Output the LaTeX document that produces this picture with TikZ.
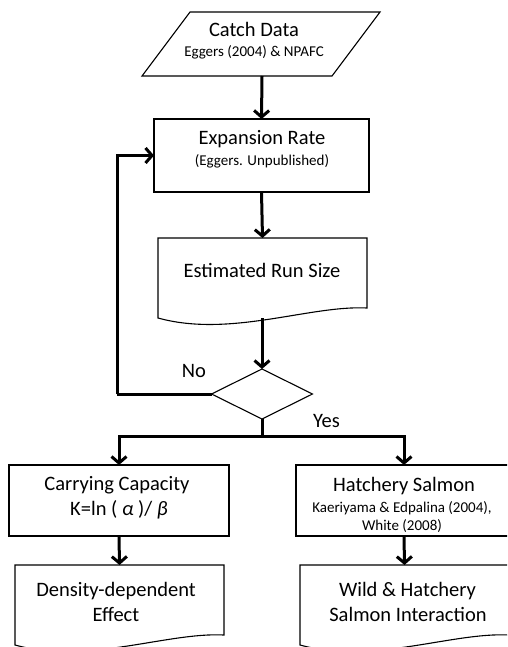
\documentclass[tikz,border=0pt]{standalone}
\usepackage{fontspec}
\setmainfont{Carlito}
\usetikzlibrary{arrows.meta,shapes.geometric}
\begin{document}
\begin{tikzpicture}[x=1pt,y=-1pt,
  conn/.style={line width=3pt},
  arr/.style={conn,-{Straight Barb[length=6.5pt,width=15pt]}},
  box/.style={draw,line width=1.1pt},
  frame/.style={rectangle,inner sep=0pt,outer sep=0pt},
  big/.style={font=\fontsize{20.5}{25}\selectfont,inner sep=0pt,anchor=base},
  small/.style={font=\fontsize{15}{18}\selectfont,inner sep=0pt,anchor=base}]
\useasboundingbox (0,0) rectangle (507,647);
\clip (0,0) rectangle (507,647);

% Catch data (parallelogram)
\node[frame,minimum width=190pt,minimum height=64pt] (catch) at (262,44) {};
\draw[box] (190,12) -- (380,12) -- (332,76) -- (142,76) -- cycle;
\node[big] (catchT) at (254,36.5) {Catch Data};
\node[small] (catchS) at (254,57) {Eggers (2004) \& NPAFC};

% Expansion rate
\node[box,frame,minimum width=215pt,minimum height=73pt] (exp) at (261.5,155.5) {};
\node[big] (expT) at (262,145) {Expansion Rate};
\node[small] (expS) at (262,165) {(Eggers. Unpublished)};

% Estimated run size (document)
\node[frame,minimum width=209pt,minimum height=80pt] (run) at (262.5,278) {};
\draw[box,shift={(158,238)}] (0,0) -- (209,0) -- (209,70) .. controls (152,67) and (72,100) .. (0,80) -- cycle;
\node[big] (runT) at (262,277) {Estimated Run Size};
\coordinate (runb) at (262,318);

% Decision
\node[draw,line width=1.1pt,diamond,aspect=2,minimum width=101pt,minimum height=50pt,inner sep=0pt,outer sep=0pt,fill=white] (dec) at (262,394) {};
\node[big] (no) at (194,377) {No};
\node[big] (yes) at (326.5,427) {Yes};
\coordinate (loopc) at (117,394);
\coordinate (split) at (262,436);

% Carrying capacity
\node[box,frame,minimum width=220pt,minimum height=71pt] (cap) at (119,500.5) {};
\node[big] (capT) at (117,490) {Carrying Capacity};
\node[big] (capS) at (119,515) {K=ln ( {\itshape α} )/ {\itshape β}};

% Hatchery salmon
\node[box,frame,minimum width=216pt,minimum height=71pt] (hat) at (404,500.5) {};
\node[big] (hatT) at (404,491) {Hatchery Salmon};
\node[small] (hatS1) at (402,512) {Kaeriyama \& Edpalina (2004),};
\node[small] (hatS2) at (402,530) {White (2008)};

% Density-dependent effect (document)
\node[frame,minimum width=209pt,minimum height=80pt] (dde) at (119.5,605) {};
\draw[box,shift={(15,565)}] (0,0) -- (209,0) -- (209,70) .. controls (152,67) and (72,100) .. (0,80) -- cycle;
\node[big] (ddeT1) at (116,596) {Density-dependent};
\node[big] (ddeT2) at (116,621) {Effect};

% Wild & hatchery salmon interaction (document)
\node[frame,minimum width=209pt,minimum height=80pt] (wild) at (404.5,605) {};
\draw[box,shift={(300,565)}] (0,0) -- (209,0) -- (209,70) .. controls (152,67) and (72,100) .. (0,80) -- cycle;
\node[big] (wildT1) at (407.5,596) {Wild \& Hatchery};
\node[big] (wildT2) at (408,621) {Salmon Interaction};

% Connectors
\draw[arr] (catch.south) -- (exp.north);
\draw[arr] (exp.south) -- (run.north);
\draw[arr] (runb) -- (dec.north);
\draw[conn] (dec.west) -- (loopc);
\draw[arr] (loopc) |- (exp.west);
\draw[conn] (dec.south) -- (split);
\draw[arr] (split) -| (cap.north);
\draw[arr] (split) -| (hat.north);
\draw[arr] (cap.south) -- (dde.north);
\draw[arr] (hat.south) -- (wild.north);
\end{tikzpicture}
\end{document}
